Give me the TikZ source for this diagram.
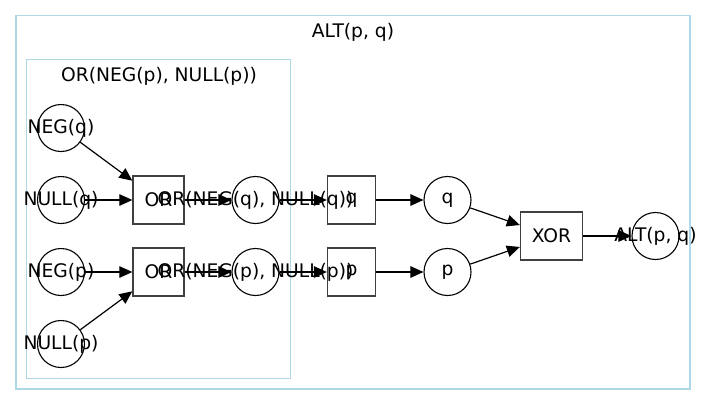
\documentclass[tikz,border=0pt]{standalone}
\usepackage{fontspec}
\setmainfont{DejaVu Sans}
\usetikzlibrary{arrows.meta}
\definecolor{clusterblue}{HTML}{ADD8E6}
\begin{document}
\begin{tikzpicture}[x=1pt,y=-1pt,
  every node/.style={font=\fontsize{18.7}{22}\selectfont},
  circ/.style={circle, draw=black, minimum size=47pt, inner sep=0pt, line width=1.1pt},
  sq/.style={rectangle, draw=black!75, minimum height=48pt, inner sep=0pt, line width=1.3pt},
  txt/.style={inner sep=0pt},
  cluster/.style={draw=clusterblue, line width=1.2pt},
  conn/.style={-{Triangle[length=13pt,width=11.5pt]}, line width=1.2pt, draw=black}]
\useasboundingbox (0,0) rectangle (707,405);
% clusters
\draw[cluster] (16,15.7) rectangle (690,389);
\node[txt] (altlab) at (353,32) {ALT(p, q)};
\draw[cluster] (26.8,59.7) rectangle (290.6,378.5);
\node[txt] (orlab) at (159,76) {OR(NEG(p), NULL(p))};
% nodes
\node[circ] (negq) at (61,128) {};
\node[circ] (nullq) at (61,200) {};
\node[circ] (negp) at (61,272) {};
\node[circ] (nullp) at (61,344) {};
\node[sq, minimum width=51pt] (ortop) at (158.5,200) {};
\node[sq, minimum width=51pt] (orbot) at (158.5,272) {};
\node[circ] (orq) at (255.5,200) {};
\node[circ] (orp) at (255.5,272) {};
\node[sq, minimum width=48pt] (bq) at (351.5,200) {};
\node[sq, minimum width=48pt] (bp) at (351.5,272) {};
\node[circ] (cq) at (447.5,200) {};
\node[circ] (cp) at (447.5,272) {};
\node[sq, minimum width=62pt] (xor) at (551.5,236) {};
\node[circ] (alt) at (655.5,236) {};
% edges
\draw[conn] (negq) -- (ortop);
\draw[conn] (nullq) -- (ortop);
\draw[conn] (negp) -- (orbot);
\draw[conn] (nullp) -- (orbot);
\draw[conn] (ortop) -- (orq);
\draw[conn] (orbot) -- (orp);
\draw[conn] (orq) -- (bq);
\draw[conn] (orp) -- (bp);
\draw[conn] (bq) -- (cq);
\draw[conn] (bp) -- (cp);
\draw[conn] (cq) -- (xor);
\draw[conn] (cp) -- (xor);
\draw[conn] (xor) -- (alt);
% labels
\node[txt] at (negq.center) {NEG(q)};
\node[txt] at (nullq.center) {NULL(q)};
\node[txt] at (negp.center) {NEG(p)};
\node[txt] at (nullp.center) {NULL(p)};
\node[txt] at (ortop.center) {OR};
\node[txt] at (orbot.center) {OR};
\node[txt] at (orq.center) {OR(NEG(q), NULL(q))};
\node[txt] at (orp.center) {OR(NEG(p), NULL(p))};
\node[txt] at (bq.center) {q};
\node[txt] at (bp.center) {p};
\node[txt] at (cq.center) {q};
\node[txt] at (cp.center) {p};
\node[txt] at (xor.center) {XOR};
\node[txt] at (alt.center) {ALT(p, q)};
\end{tikzpicture}
\end{document}
